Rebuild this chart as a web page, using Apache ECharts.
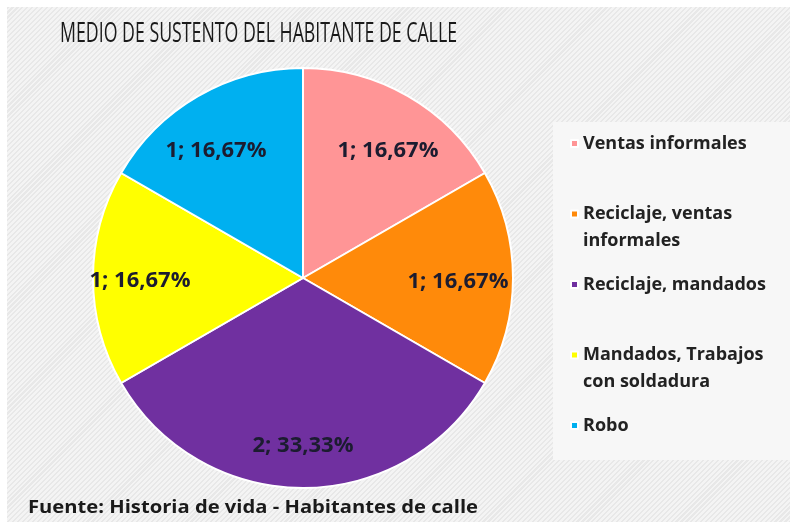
<!DOCTYPE html>
<html><head><meta charset="utf-8">
<script src="https://cdn.jsdelivr.net/npm/echarts@6/dist/echarts.min.js"></script>
<style>
html,body{margin:0;padding:0;background:#fff;}
#wrap{position:absolute;left:0;top:0;width:790px;height:522px;background:#fff;}
#chart{position:absolute;left:7px;top:7px;width:783px;height:515px;
background:repeating-linear-gradient(135deg,#e8e8e8 0px,#e8e8e8 1.5px,#f4f4f4 1.5px,#f4f4f4 3.5px);}
</style></head>
<body><div id="wrap"><div id="chart"></div></div>
<script>
const titleText = 'MEDIO DE SUSTENTO DEL HABITANTE DE CALLE';
const sourceText = 'Fuente: Historia de vida - Habitantes de calle';
const categories = ['Ventas informales', 'Reciclaje, ventas\ninformales', 'Reciclaje, mandados', 'Mandados, Trabajos\ncon soldadura', 'Robo'];
const values = [1, 1, 2, 1, 1];
const percents = ['16,67%', '16,67%', '33,33%', '16,67%', '16,67%'];
const colors = ['#FF9596', '#FF8A0A', '#7030A0', '#FFFF00', '#00B0F0'];
const labelOffsets = [[6, 10], [-3, 4], [0, 10], [-5, 3], [-8, 10]];

function fitScale(text, font, target) {
  const ctx = document.createElement('canvas').getContext('2d');
  ctx.font = font;
  return target / ctx.measureText(text).width;
}
const titleFont = '27px "Open Sans", sans-serif';
const footFont = 'bold 18px "Open Sans", sans-serif';

const chart = echarts.init(document.getElementById('chart'), null, {renderer: 'canvas'});
const data = categories.map((c, i) => ({name: c, value: values[i], itemStyle: {color: colors[i]}}));
const cx = 296, cy = 271, R = 210;
chart.setOption({
  animation: false,
  graphic: [
    {type: 'rect', left: 546, top: 115, shape: {width: 240, height: 338}, style: {fill: '#f7f7f7'}, z: -1},
    {type: 'text', x: 53, y: 27, scaleX: fitScale(titleText, titleFont, 397),
     style: {text: titleText, font: titleFont, fill: '#1a1a1a', textVerticalAlign: 'middle', textAlign: 'left'}},
    {type: 'text', x: 21, y: 501, scaleX: fitScale(sourceText, footFont, 450),
     style: {text: sourceText, font: footFont, fill: '#1a1a1a', textVerticalAlign: 'middle', textAlign: 'left'}}
  ],
  legend: {
    orient: 'vertical', left: 563, top: 96, padding: 0,
    itemWidth: 7, itemHeight: 7, itemGap: -10.5, icon: 'rect',
    formatter: n => ' \n' + (n.indexOf('\n') >= 0 ? n : n + '\n '),
    textStyle: {fontFamily: 'Open Sans', fontWeight: 'bold', fontSize: 18, color: '#222', lineHeight: 27},
    data: categories
  },
  series: [
    {
      type: 'pie', center: [cx, cy], radius: R, startAngle: 90, clockwise: true,
      data: data,
      itemStyle: {borderColor: '#ffffff', borderWidth: 2},
      label: {show: false}, labelLine: {show: false}, emphasis: {disabled: true}
    },
    {
      type: 'pie', center: [cx, cy], radius: [140, 170], startAngle: 90, clockwise: true, silent: true,
      data: categories.map((c, i) => ({name: c, value: values[i], itemStyle: {color: 'rgba(0,0,0,0)'},
        label: {offset: labelOffsets[i]}})),
      itemStyle: {borderWidth: 0},
      label: {
        show: true, position: 'inside',
        formatter: p => p.value + '; ' + percents[p.dataIndex],
        fontFamily: 'Open Sans', fontWeight: 'bold', fontSize: 22, color: '#1c1c30'
      },
      labelLine: {show: false}, emphasis: {disabled: true}
    }
  ]
});
</script></body></html>
